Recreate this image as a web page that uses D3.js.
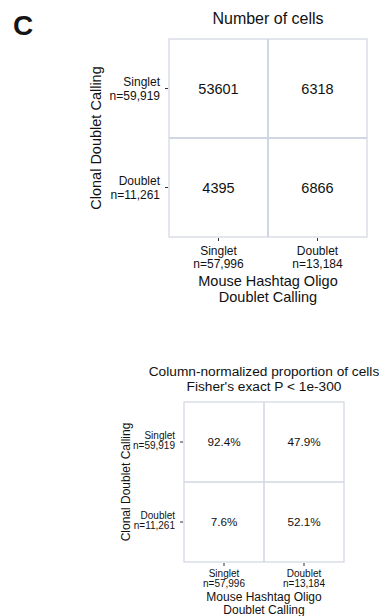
<!DOCTYPE html>
<html>
<head>
<meta charset="utf-8">
<script src="https://cdn.jsdelivr.net/npm/d3@7"></script>
<style>
  html, body { margin: 0; padding: 0; background: #fff; }
  svg { display: block; font-family: "Liberation Sans", Arial, Helvetica, sans-serif; }
</style>
</head>
<body>
<svg id="fig" width="379" height="616"></svg>
<script>
// Contingency table: clonal doublet calling (rows) vs hashtag doublet calling (columns)
const rowCats = ["Singlet", "Doublet"];
const colCats = ["Singlet", "Doublet"];
const rowTotals = [59919, 11261];
const colTotals = [57996, 13184];
const counts = [[53601, 6318], [4395, 6866]];
const colPercents = [[92.4, 47.9], [7.6, 52.1]];

const svg = d3.select("#fig");
const ink = "#111";
const gridColor = "#d1d7e2";
const fmtN = d3.format(",");

// panel letter
svg.append("text").attr("x", 13).attr("y", 35)
  .attr("font-size", 28).attr("font-weight", "bold").attr("fill", "#151515").text("C");

function panel(o) {
  const x = d3.scaleBand().domain(colCats).range([o.x0, o.x1]);
  const y = d3.scaleBand().domain(rowCats).range([o.y0, o.y1]);
  const g = svg.append("g");

  // titles
  o.title.forEach((t, i) => {
    g.append("text").attr("x", (o.x0 + o.x1) / 2).attr("y", o.titleY + i * o.titleGap)
      .attr("text-anchor", "middle").attr("font-size", o.titleSize).attr("fill", ink).text(t);
  });

  // cells
  const cells = [];
  rowCats.forEach((r, i) => colCats.forEach((c, j) => cells.push({ r, c, v: o.values[i][j] })));
  g.selectAll("rect.cell").data(cells).join("rect").attr("class", "cell")
    .attr("x", d => x(d.c)).attr("y", d => y(d.r))
    .attr("width", x.bandwidth()).attr("height", y.bandwidth())
    .attr("fill", "#fff");

  // inner grid lines
  g.append("line").attr("x1", x(colCats[1])).attr("x2", x(colCats[1]))
    .attr("y1", o.y0).attr("y2", o.y1).attr("stroke", gridColor).attr("stroke-width", o.inner);
  g.append("line").attr("y1", y(rowCats[1])).attr("y2", y(rowCats[1]))
    .attr("x1", o.x0).attr("x2", o.x1).attr("stroke", gridColor).attr("stroke-width", o.inner);
  // outer frame
  g.append("rect").attr("x", o.x0).attr("y", o.y0)
    .attr("width", o.x1 - o.x0).attr("height", o.y1 - o.y0)
    .attr("fill", "none").attr("stroke", gridColor).attr("stroke-width", 1.2);

  // cell values
  g.selectAll("text.val").data(cells).join("text").attr("class", "val")
    .attr("x", d => x(d.c) + x.bandwidth() / 2)
    .attr("y", d => y(d.r) + y.bandwidth() / 2)
    .attr("dy", "0.36em").attr("text-anchor", "middle")
    .attr("font-size", o.valSize).attr("fill", ink)
    .text(d => o.fmt(d.v));

  // y axis ticks and labels
  const yAxis = g.append("g");
  rowCats.forEach((r, i) => {
    const cy = y(r) + y.bandwidth() / 2;
    yAxis.append("line").attr("x1", o.x0 - 4).attr("x2", o.x0 - 1)
      .attr("y1", cy).attr("y2", cy).attr("stroke", "#333").attr("stroke-width", 1);
    yAxis.append("text").attr("x", o.x0 - 9).attr("y", cy + o.yLab[0])
      .attr("text-anchor", "end").attr("font-size", o.tickSize).attr("fill", ink).text(r);
    yAxis.append("text").attr("x", o.x0 - 9).attr("y", cy + o.yLab[1])
      .attr("text-anchor", "end").attr("font-size", o.tickSize).attr("fill", ink)
      .text("n=" + fmtN(rowTotals[i]));
  });
  g.append("text")
    .attr("transform", `translate(${o.yTitleX},${(o.y0 + o.y1) / 2}) rotate(-90)`)
    .attr("text-anchor", "middle").attr("dy", "0.36em")
    .attr("font-size", o.axisSize).attr("fill", ink).text("Clonal Doublet Calling");

  // x axis ticks and labels
  colCats.forEach((c, j) => {
    const cx = x(c) + x.bandwidth() / 2;
    g.append("line").attr("x1", cx).attr("x2", cx)
      .attr("y1", o.y1 + 1).attr("y2", o.y1 + 4).attr("stroke", "#333").attr("stroke-width", 1);
    g.append("text").attr("x", cx).attr("y", o.y1 + o.xLab[0])
      .attr("text-anchor", "middle").attr("font-size", o.tickSize).attr("fill", ink).text(c);
    g.append("text").attr("x", cx).attr("y", o.y1 + o.xLab[1])
      .attr("text-anchor", "middle").attr("font-size", o.tickSize).attr("fill", ink)
      .text("n=" + fmtN(colTotals[j]));
  });
  ["Mouse Hashtag Oligo", "Doublet Calling"].forEach((t, i) => {
    g.append("text").attr("x", (o.x0 + o.x1) / 2).attr("y", o.y1 + o.xTitle[i])
      .attr("text-anchor", "middle").attr("font-size", o.axisSize).attr("fill", ink).text(t);
  });
}

// raw counts
panel({
  x0: 169, x1: 367, y0: 39, y1: 237,
  title: ["Number of cells"], titleY: 24, titleGap: 0, titleSize: 16,
  values: counts, fmt: d => String(d), valSize: 14.5,
  inner: 2, tickSize: 12, yLab: [-3, 11], xLab: [18, 30.5],
  axisSize: 14.5, yTitleX: 96, xTitle: [49, 64.5]
});

// column-normalized proportions
panel({
  x0: 184, x1: 344, y0: 402, y1: 562,
  title: ["Column-normalized proportion of cells", "Fisher's exact P < 1e-300"],
  titleY: 376, titleGap: 14.5, titleSize: 13.7,
  values: colPercents, fmt: d => d.toFixed(1) + "%", valSize: 11.7,
  inner: 1.5, tickSize: 10, yLab: [-3, 6.5], xLab: [14.7, 25.2],
  axisSize: 12, yTitleX: 126, xTitle: [38.7, 52]
});
</script>
</body>
</html>
